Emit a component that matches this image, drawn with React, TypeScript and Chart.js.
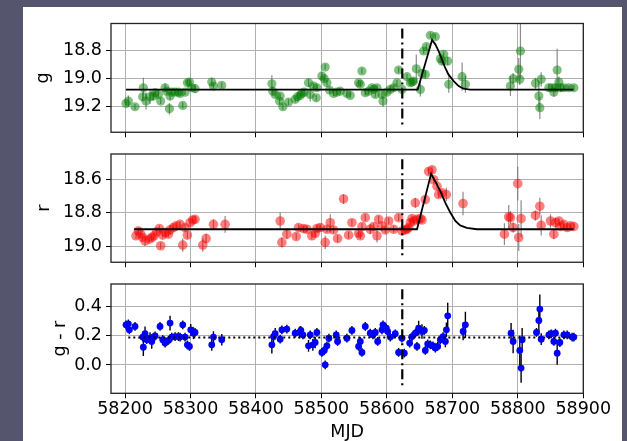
import React, { useEffect, useRef } from "react";
import { Chart, registerables } from "chart.js";
Chart.register(...registerables);

// ---------- data ----------
const xTicks = [58200, 58300, 58400, 58500, 58600, 58700, 58800, 58900];
const gTicks = [18.8, 19.0, 19.2];
const rTicks = [18.6, 18.8, 19.0];
const grTicks = [0.0, 0.2, 0.4];

const gMjd = [58201.5, 58205.1, 58215.3, 58228.0, 58227.0, 58232.1, 58238.2, 58243.3, 58245.9, 58251.0, 58254.5, 58261.2, 58263.7, 58268.8, 58267.8, 58271.4, 58276.5, 58281.5, 58284.1, 58288.2, 58291.7, 58295.3, 58298.4, 58301.9, 58307.0, 58332.5, 58335.1, 58347.8,
  58424.3, 58425.8, 58429.4, 58437.0, 58436.0, 58441.1, 58449.7, 58459.9, 58463.5, 58467.6, 58470.1, 58473.7, 58480.3, 58482.9, 58488.0, 58492.0, 58493.1, 58500.7, 58505.8, 58504.3, 58508.4, 58512.4, 58518.5, 58523.6, 58528.7, 58538.9, 58544.0,
  58556.8, 58559.4, 58561.9, 58567.0, 58572.1, 58577.2, 58579.8, 58584.9, 58582.3, 58592.5, 58594.0, 58600.1, 58605.2, 58610.3, 58615.4, 58617.9, 58623.0, 58630.7, 58635.8, 58638.3, 58640.9, 58644.9, 58651.1, 58653.6, 58658.7, 58656.2, 58660.3, 58666.4, 58674.0, 58681.7, 58684.2, 58686.8, 58692.9, 58694.5, 58714.9, 58719.9,
  58788.7, 58792.8, 58801.4, 58803.0, 58804.0, 58827.0, 58832.1, 58833.6, 58835.7, 58847.4, 58852.5, 58855.0, 58857.5, 58860.1, 58862.7, 58865.2, 58870.3, 58877.9, 58885.6];
const gMag = [19.177, 19.16, 19.2, 19.066, 19.13, 19.16, 19.13, 19.125, 19.101, 19.113, 19.16, 19.066, 19.09, 19.125, 19.214, 19.097, 19.097, 19.097, 19.106, 19.191, 19.097, 19.031, 19.026, 19.066, 19.073, 19.026, 19.054, 19.049,
  19.038, 19.09, 19.113, 19.125, 19.16, 19.2, 19.167, 19.148, 19.13, 19.12, 19.106, 19.097, 19.031, 19.113, 19.054, 19.137, 19.066, 18.984, 18.92, 19.002, 19.031, 19.082, 19.106, 19.097, 19.09, 19.106, 19.12,
  19.031, 19.042, 18.948, 19.101, 19.09, 19.066, 19.078, 19.066, 19.113, 19.113, 19.16, 19.097, 19.078, 19.066, 19.031, 18.941, 19.078, 18.988, 19.031, 19.026, 19.019, 18.932, 19.078, 18.965, 18.972, 18.807, 18.776, 18.696, 18.706, 18.861, 18.878, 18.83, 18.878, 19.042, 18.988, 19.042,
  19.054, 19.002, 18.936, 19.007, 18.807, 19.035, 19.125, 19.207, 19.007, 19.066, 19.066, 19.097, 19.066, 18.941, 19.026, 19.066, 19.066, 19.066, 19.066];
const gErr = [0.02, 0.04, 0.02, 0.07, 0.03, 0.06, 0.05, 0.03, 0.02, 0.02, 0.02, 0.03, 0.02, 0.03, 0.04, 0.02, 0.02, 0.02, 0.02, 0.02, 0.02, 0.02, 0.02, 0.02, 0.03, 0.03, 0.02, 0.02,
  0.06, 0.03, 0.02, 0.02, 0.02, 0.02, 0.02, 0.02, 0.03, 0.02, 0.02, 0.02, 0.03, 0.05, 0.02, 0.02, 0.02, 0.03, 0.02, 0.02, 0.02, 0.02, 0.02, 0.02, 0.02, 0.02, 0.02,
  0.02, 0.02, 0.02, 0.02, 0.02, 0.02, 0.02, 0.02, 0.02, 0.02, 0.04, 0.02, 0.02, 0.02, 0.02, 0.02, 0.02, 0.02, 0.02, 0.02, 0.02, 0.1, 0.05, 0.03, 0.03, 0.02, 0.02, 0.02, 0.02, 0.03, 0.03, 0.02, 0.03, 0.06, 0.1, 0.06,
  0.07, 0.04, 0.08, 0.04, 0.19, 0.04, 0.1, 0.08, 0.05, 0.03, 0.02, 0.03, 0.03, 0.15, 0.04, 0.03, 0.02, 0.02, 0.02];

const rMjd = [58216.8, 58220.4, 58224.0, 58227.0, 58230.6, 58237.2, 58240.8, 58244.3, 58248.4, 58252.5, 58254.5, 58257.6, 58261.2, 58266.3, 58268.8, 58273.9, 58278.0, 58284.1, 58288.2, 58291.7, 58295.3, 58299.4, 58303.5, 58307.0, 58318.8, 58323.9, 58335.1, 58352.9,
  58437.0, 58439.6, 58447.2, 58461.5, 58465.0, 58472.7, 58477.8, 58485.4, 58490.5, 58493.1, 58498.2, 58505.8, 58508.4, 58513.5, 58518.5, 58524.7, 58533.8,
  58541.5, 58546.6, 58556.8, 58559.4, 58561.9, 58567.0, 58574.6, 58579.8, 58584.9, 58587.4, 58592.5, 58597.6, 58602.7, 58610.3, 58617.9, 58623.0, 58628.1, 58630.7, 58633.2, 58635.8, 58638.3, 58640.9, 58643.4, 58645.9, 58651.1, 58653.6, 58658.7, 58663.8, 58668.9, 58671.5, 58676.6, 58679.1, 58684.2, 58690.8, 58716.3,
  58779.5, 58786.1, 58788.7, 58792.8, 58799.9, 58801.4, 58805.0, 58826.9, 58833.6, 58835.7, 58849.9, 58855.0, 58857.5, 58862.7, 58865.2, 58870.3, 58875.4, 58880.5, 58885.6];
const rMag = [18.937, 18.908, 18.927, 18.947, 18.967, 18.957, 18.947, 18.937, 18.914, 18.894, 18.996, 18.933, 18.918, 18.927, 18.902, 18.888, 18.878, 18.869, 18.992, 18.888, 18.933, 18.859, 18.843, 18.839, 18.992, 18.953, 18.869, 18.869,
  18.849, 18.976, 18.927, 18.941, 18.888, 18.894, 18.898, 18.937, 18.922, 18.894, 18.888, 18.976, 18.898, 18.859, 18.902, 18.953, 18.718,
  18.933, 18.859, 18.922, 18.937, 18.882, 18.829, 18.898, 18.882, 18.937, 18.839, 18.878, 18.902, 18.849, 18.898, 18.829, 18.908, 18.902, 18.898, 18.888, 18.859, 18.835, 18.849, 18.741, 18.839, 18.835, 18.843, 18.722, 18.555, 18.545, 18.604, 18.643, 18.692, 18.682, 18.692, 18.745,
  18.927, 18.824, 18.829, 18.888, 18.627, 18.947, 18.835, 18.816, 18.761, 18.875, 18.849, 18.927, 18.859, 18.849, 18.882, 18.869, 18.888, 18.878, 18.882];
const rErr = [0.02, 0.02, 0.02, 0.02, 0.03, 0.02, 0.02, 0.02, 0.02, 0.02, 0.02, 0.02, 0.02, 0.02, 0.03, 0.02, 0.02, 0.02, 0.04, 0.02, 0.02, 0.02, 0.02, 0.02, 0.04, 0.03, 0.03, 0.05,
  0.05, 0.03, 0.03, 0.02, 0.02, 0.02, 0.02, 0.02, 0.02, 0.02, 0.02, 0.04, 0.02, 0.05, 0.02, 0.02, 0.03,
  0.02, 0.02, 0.02, 0.02, 0.02, 0.02, 0.03, 0.02, 0.04, 0.02, 0.02, 0.02, 0.02, 0.02, 0.02, 0.02, 0.02, 0.02, 0.02, 0.02, 0.02, 0.02, 0.03, 0.02, 0.02, 0.02, 0.02, 0.02, 0.02, 0.02, 0.02, 0.02, 0.02, 0.04, 0.07,
  0.065, 0.07, 0.04, 0.03, 0.1, 0.08, 0.11, 0.03, 0.05, 0.06, 0.04, 0.03, 0.03, 0.02, 0.02, 0.02, 0.02, 0.02, 0.02];

const grMjd = [58201.5, 58205.1, 58206.6, 58215.3, 58227.0, 58228.0, 58230.6, 58233.1, 58238.2, 58240.8, 58244.3, 58245.9, 58253.5, 58257.6, 58261.2, 58266.3, 58268.8, 58271.4, 58276.5, 58281.5, 58284.1, 58288.2, 58291.7, 58295.3, 58298.4, 58300.4, 58304.5, 58307.0, 58332.5, 58335.1, 58347.8,
  58424.3, 58426.8, 58429.4, 58437.0, 58439.6, 58447.2, 58459.9, 58466.6, 58468.6, 58471.7, 58480.3, 58482.9, 58486.9, 58490.5, 58493.1, 58500.7, 58504.3, 58505.8, 58508.4, 58511.4, 58522.6, 58524.7, 58538.9,
  58546.6, 58556.8, 58559.4, 58561.9, 58567.0, 58574.6, 58578.7, 58582.3, 58585.9, 58592.5, 58594.0, 58599.1, 58601.1, 58605.2, 58612.8, 58617.9, 58623.0, 58626.6, 58634.8, 58638.3, 58643.4, 58646.0, 58648.5, 58653.6, 58657.2, 58658.7, 58662.3, 58666.4, 58670.4, 58674.0, 58677.6, 58681.7, 58685.8, 58689.3, 58690.9, 58692.9, 58716.4, 58719.9,
  58789.7, 58792.8, 58803.0, 58805.0, 58806.6, 58828.5, 58832.1, 58833.6, 58835.7, 58847.4, 58851.0, 58855.0, 58857.5, 58860.1, 58864.2, 58870.3, 58875.4, 58883.0, 58885.6];
const grVal = [0.275, 0.282, 0.241, 0.264, 0.191, 0.122, 0.214, 0.173, 0.184, 0.161, 0.191, 0.2, 0.264, 0.173, 0.15, 0.168, 0.287, 0.191, 0.195, 0.195, 0.191, 0.275, 0.191, 0.138, 0.127, 0.241, 0.218, 0.223, 0.138, 0.191, 0.173,
  0.138, 0.195, 0.214, 0.177, 0.241, 0.246, 0.218, 0.223, 0.237, 0.207, 0.131, 0.207, 0.138, 0.154, 0.223, 0.086, 0.1, 0.001, 0.131, 0.184, 0.207, 0.161, 0.184,
  0.237, 0.127, 0.161, 0.086, 0.264, 0.218, 0.207, 0.223, 0.161, 0.241, 0.275, 0.253, 0.23, 0.191, 0.214, 0.086, 0.184, 0.081, 0.15, 0.195, 0.218, 0.127, 0.253, 0.23, 0.237, 0.1, 0.145, 0.138, 0.131, 0.116, 0.127, 0.173, 0.195, 0.161, 0.241, 0.337, 0.23, 0.275,
  0.218, 0.161, 0.1, -0.021, 0.173, 0.223, 0.305, 0.383, 0.177, 0.207, 0.214, 0.161, 0.218, 0.081, 0.154, 0.207, 0.207, 0.191, 0.191];
const grErr = [0.03, 0.03, 0.03, 0.03, 0.03, 0.06, 0.05, 0.03, 0.04, 0.05, 0.03, 0.03, 0.03, 0.03, 0.03, 0.03, 0.05, 0.03, 0.03, 0.03, 0.03, 0.03, 0.03, 0.03, 0.03, 0.04, 0.04, 0.03, 0.04, 0.04, 0.04,
  0.06, 0.04, 0.04, 0.03, 0.03, 0.03, 0.03, 0.04, 0.03, 0.03, 0.04, 0.03, 0.04, 0.04, 0.03, 0.03, 0.03, 0.03, 0.03, 0.03, 0.03, 0.03, 0.03,
  0.03, 0.03, 0.03, 0.03, 0.03, 0.03, 0.03, 0.03, 0.03, 0.03, 0.03, 0.03, 0.03, 0.03, 0.03, 0.03, 0.03, 0.03, 0.03, 0.03, 0.03, 0.03, 0.05, 0.05, 0.03, 0.03, 0.03, 0.03, 0.03, 0.03, 0.03, 0.03, 0.03, 0.04, 0.05, 0.09, 0.06, 0.09,
  0.07, 0.08, 0.1, 0.1, 0.08, 0.03, 0.09, 0.1, 0.04, 0.03, 0.03, 0.03, 0.03, 0.08, 0.03, 0.03, 0.03, 0.03, 0.03];

const modelGMjd = [58201.5, 58647, 58669, 58674, 58679, 58684, 58689, 58694, 58702, 58709.6, 58717, 58727, 58885];
const modelG = [19.08, 19.08, 18.729, 18.76, 18.807, 18.866, 18.925, 18.972, 19.019, 19.054, 19.073, 19.08, 19.08];
const modelRMjd = [58214, 58646, 58667.5, 58674, 58681.7, 58689.3, 58697, 58704.6, 58712, 58722, 58737.5, 58885];
const modelR = [18.898, 18.898, 18.569, 18.614, 18.673, 18.741, 18.8, 18.849, 18.875, 18.89, 18.898, 18.898];

const peakMjd = 58623.5;
const gVline = [18.648, 19.346];
const rVline = [18.482, 19.059];
const grVline = [0.519, -0.16];
const grMean = 0.188;
const grMeanRange = [58205, 58885];

// ---------- styling ----------
const FONT = { family: "DejaVu Sans", size: 17.5, lineHeight: 1 };
const GRID = "#b0b0b0";
const X_MIN = 58178.6;
const X_MAX = 58900;

const errorBarPlugin = {
  id: "errorBars",
  beforeDatasetsDraw(chart: any) {
    const ctx = chart.ctx;
    const { left, right, top, bottom } = chart.chartArea;
    const xs = chart.scales.x;
    const ys = chart.scales.y;
    ctx.save();
    ctx.beginPath();
    ctx.rect(left, top, right - left, bottom - top);
    ctx.clip();
    chart.data.datasets.forEach((ds: any) => {
      if (!ds.errors) return;
      ctx.strokeStyle = ds.errorColor;
      ctx.lineWidth = ds.errorWidth;
      ds.data.forEach((p: any, i: number) => {
        const e = ds.errors[i];
        const px = xs.getPixelForValue(p.x);
        ctx.beginPath();
        ctx.moveTo(px, ys.getPixelForValue(p.y - e));
        ctx.lineTo(px, ys.getPixelForValue(p.y + e));
        ctx.stroke();
      });
    });
    ctx.restore();
  },
};

const framePlugin = {
  id: "frame",
  afterDraw(chart: any) {
    const { left, right, top, bottom } = chart.chartArea;
    const ctx = chart.ctx;
    ctx.save();
    ctx.strokeStyle = "#222";
    ctx.lineWidth = 1.3;
    ctx.strokeRect(left, top, right - left, bottom - top);
    ctx.restore();
  },
};

const pts = (xs: number[], ys: number[]) => xs.map((x, i) => ({ x, y: ys[i] }));

type PanelSpec = {
  padTop: number;
  xAxisHeight: number;
  showX: boolean;
  yMin: number;
  yMax: number;
  reverse: boolean;
  yTicks: number[];
  yTitle: string;
  yTitlePad: number;
  datasets: any[];
};

function buildConfig(p: PanelSpec): any {
  return {
    type: "scatter",
    data: { datasets: p.datasets },
    plugins: [errorBarPlugin, framePlugin],
    options: {
      responsive: false,
      animation: false,
      events: [],
      layout: { padding: { left: 0, right: 43.7, top: p.padTop, bottom: 0 } },
      plugins: { legend: { display: false }, tooltip: { enabled: false } },
      scales: {
        x: {
          type: "linear",
          min: X_MIN,
          max: X_MAX,
          afterBuildTicks: (s: any) => {
            s.ticks = xTicks.map((v) => ({ value: v }));
          },
          afterFit: (s: any) => {
            s.height = p.xAxisHeight;
          },
          grid: { color: GRID, lineWidth: 1, tickColor: "#000", tickLength: 5, drawTicks: true },
          border: { display: false },
          ticks: {
            display: p.showX,
            font: FONT,
            color: "#000",
            padding: 2,
            maxRotation: 0,
            autoSkip: false,
            callback: (v: any) => String(v),
          },
          title: { display: p.showX, text: "MJD", font: FONT, color: "#000", padding: 0 },
        },
        y: {
          type: "linear",
          min: p.yMin,
          max: p.yMax,
          reverse: p.reverse,
          afterBuildTicks: (s: any) => {
            s.ticks = p.yTicks.map((v) => ({ value: v }));
          },
          afterFit: (s: any) => {
            s.width = 111;
          },
          grid: { color: GRID, lineWidth: 1, tickColor: "#000", tickLength: 5, drawTicks: true },
          border: { display: false },
          ticks: {
            font: FONT,
            color: "#000",
            padding: 4,
            callback: (v: any) => Number(v).toFixed(1),
          },
          title: { display: true, text: p.yTitle, font: FONT, color: "#000", padding: { top: p.yTitlePad, bottom: 0 } },
        },
      },
    },
  };
}

function lineDs(xs: number[], ys: number[], dash: number[], width: number) {
  return {
    data: pts(xs, ys),
    showLine: true,
    borderColor: "#000",
    borderWidth: width,
    borderDash: dash,
    pointRadius: 0,
    fill: false,
    order: 0,
  };
}

function pointDs(xs: number[], ys: number[], errs: number[], color: string, radius: number, errColor: string, errWidth: number) {
  return {
    data: pts(xs, ys),
    showLine: false,
    pointRadius: radius,
    pointBackgroundColor: color,
    pointBorderWidth: 0,
    borderWidth: 0,
    errors: errs,
    errorColor: errColor,
    errorWidth: errWidth,
    order: 1,
  };
}

const panels: { top: number; height: number; spec: PanelSpec }[] = [
  {
    top: 0,
    height: 145,
    spec: {
      padTop: 23.5,
      xAxisHeight: 12,
      showX: false,
      yMin: 18.613,
      yMax: 19.38,
      reverse: true,
      yTicks: gTicks,
      yTitle: "g",
      yTitlePad: 35,
      datasets: [
        pointDs(gMjd, gMag, gErr, "rgba(0,128,0,0.5)", 4.6, "rgba(110,110,110,0.8)", 1.2),
        lineDs(modelGMjd, modelG, [], 1.8),
        lineDs([peakMjd, peakMjd], gVline, [10, 4, 2, 4], 2.2),
      ],
    },
  },
  {
    top: 140,
    height: 135,
    spec: {
      padTop: 14,
      xAxisHeight: 11.7,
      showX: false,
      yMin: 18.451,
      yMax: 19.094,
      reverse: true,
      yTicks: rTicks,
      yTitle: "r",
      yTitlePad: 36,
      datasets: [
        pointDs(rMjd, rMag, rErr, "rgba(255,0,0,0.5)", 4.8, "rgba(110,110,110,0.8)", 1.2),
        lineDs(modelRMjd, modelR, [], 1.8),
        lineDs([peakMjd, peakMjd], rVline, [10, 4, 2, 4], 2.2),
      ],
    },
  },
  {
    top: 270,
    height: 171,
    spec: {
      padTop: 14,
      xAxisHeight: 47.7,
      showX: true,
      yMin: -0.194,
      yMax: 0.555,
      reverse: false,
      yTicks: grTicks,
      yTitle: "g - r",
      yTitlePad: 52,
      datasets: [
        pointDs(grMjd, grVal, grErr, "#0000ff", 3.4, "#000", 1.4),
        lineDs(grMeanRange, [grMean, grMean], [2, 3], 2),
        lineDs([peakMjd, peakMjd], grVline, [10, 4, 2, 4], 2.2),
      ],
    },
  },
];

function Panel({ top, height, spec }: { top: number; height: number; spec: PanelSpec }) {
  const ref = useRef<HTMLCanvasElement>(null);
  useEffect(() => {
    const chart = new Chart(ref.current as HTMLCanvasElement, buildConfig(spec));
    return () => chart.destroy();
  }, []);
  return (
    <canvas
      ref={ref}
      width={627}
      height={height}
      style={{ position: "absolute", left: 0, top, width: 627, height }}
    />
  );
}

export default function App() {
  return (
    <div
      style={{
        position: "fixed",
        left: 0,
        top: 0,
        width: 627,
        height: 441,
        overflow: "hidden",
        background: "#56556e",
      }}
    >
      <div style={{ position: "absolute", left: 23, top: 7, width: 599, height: 440, background: "#fff" }} />
      {panels.map((p, i) => (
        <Panel key={i} top={p.top} height={p.height} spec={p.spec} />
      ))}
    </div>
  );
}
